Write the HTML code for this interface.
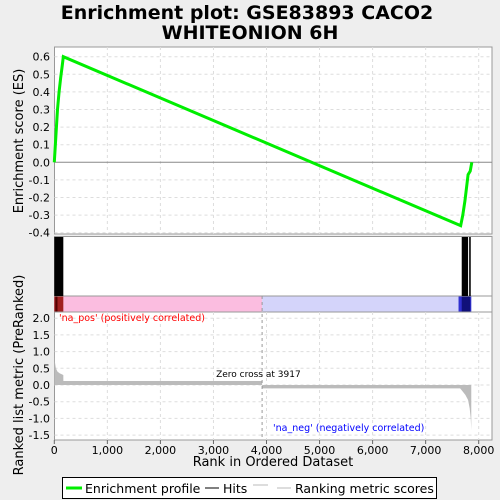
<!DOCTYPE html>
<html><head><meta charset="utf-8"><style>
body{margin:0;background:#eeeeee;}
svg{display:block;font-family:"DejaVu Sans","Liberation Sans",sans-serif;}
</style></head><body>
<svg id="c" width="500" height="500" xmlns="http://www.w3.org/2000/svg">
<rect width="500" height="500" fill="#eeeeee"/>
<text x="247" y="19" text-anchor="middle" font-size="19" font-weight="bold">Enrichment plot: GSE83893 CACO2</text>
<text x="250" y="39" text-anchor="middle" font-size="19" font-weight="bold">WHITEONION 6H</text>
<g id="g"></g>
</svg>
<script>
const esRanks=[0,30,60,90,120,150,170,7660,7700,7740,7780,7800,7840,7870];
const esValues=[0,0.15,0.3,0.4,0.48,0.55,0.6,-0.36,-0.3,-0.22,-0.12,-0.07,-0.05,0];
const hitStarts=[0,7680,7820];
const hitEnds=[170,7800,7850];
const metricRanks=[0,10,30,60,100,170,171,3917,3918,7650,7700,7750,7800,7830,7850,7860];
const metricValues=[2.0,0.7,0.5,0.4,0.35,0.3,0.12,0.12,-0.1,-0.1,-0.2,-0.3,-0.45,-0.7,-1.0,-1.35];
const esTicks=[0.6,0.5,0.4,0.3,0.2,0.1,0.0,-0.1,-0.2,-0.3,-0.4];
const metricTicks=[2.0,1.5,1.0,0.5,0.0,-0.5,-1.0,-1.5];
const xTicks=[0,1000,2000,3000,4000,5000,6000,7000,8000];
const zeroCross=3917;
const NS="http://www.w3.org/2000/svg";
const g=document.getElementById('g');
const L=54.5,R=492;
const X=r=>54.3+r*0.05305;
const YES=v=>162.3-v*176;
const YM=v=>385-v*33.4;
function mk(t,a,p){const e=document.createElementNS(NS,t);for(const k in a)e.setAttribute(k,a[k]);(p||g).appendChild(e);return e;}
// panels
let p1=mk('rect',{x:L,y:47,width:R-L,height:187,fill:'#fff',stroke:'#999'});


let p2=mk('rect',{x:L,y:236.5,width:R-L,height:59.5,fill:'#fff',stroke:'#999'});


let p3=mk('rect',{x:L,y:296,width:R-L,height:16,fill:'#fff',stroke:'#999'});


let p4=mk('rect',{x:L,y:312,width:R-L,height:128,fill:'#fff',stroke:'#999'});


// grids
xTicks.forEach(t=>{if(t>0){mk('line',{x1:X(t),x2:X(t),y1:47,y2:234,stroke:'#ddd','stroke-dasharray':'3,3'});mk('line',{x1:X(t),x2:X(t),y1:312,y2:440,stroke:'#ddd','stroke-dasharray':'3,3'});}});
esTicks.forEach(t=>{mk('line',{x1:L,x2:R,y1:YES(t),y2:YES(t),stroke:Math.abs(t)<1e-9?'#888':'#ddd','stroke-dasharray':Math.abs(t)<1e-9?'':'3,3'});
 let tx=mk('text',{x:50,y:YES(t)+4,'text-anchor':'end','font-size':11});tx.textContent=t.toFixed(1);
 
 });
metricTicks.forEach(t=>{mk('line',{x1:L,x2:R,y1:YM(t),y2:YM(t),stroke:'#ddd','stroke-dasharray':'3,3'});
 let tx=mk('text',{x:50,y:YM(t)+4,'text-anchor':'end','font-size':11});tx.textContent=t.toFixed(1);
 
 });
// color bar
mk('rect',{x:X(0),y:296.5,width:X(zeroCross)-X(0),height:15,fill:'#fbbde0'});
mk('rect',{x:X(zeroCross),y:296.5,width:X(7860)-X(zeroCross),height:15,fill:'#d4d4fa'});
mk('rect',{x:X(0),y:296.5,width:X(170)-X(0),height:15,fill:'#a02020'});
mk('rect',{x:X(20),y:296.5,width:X(60)-X(20),height:15,fill:'#500'});
mk('rect',{x:X(7620),y:296.5,width:X(7860)-X(7620),height:15,fill:'#3030d0'});
mk('rect',{x:X(7680),y:296.5,width:X(7840)-X(7680),height:15,fill:'#10107a'});
// hits
hitStarts.forEach((s,i)=>{let r=mk('rect',{x:X(s),y:237,width:X(hitEnds[i])-X(s),height:59,fill:'#000'});
 
 });
// metric area
let d='M'+X(metricRanks[0])+','+YM(0);
metricRanks.forEach((r,i)=>{d+=' L'+X(r)+','+YM(metricValues[i]);});
d+=' L'+X(metricRanks[metricRanks.length-1])+','+YM(0)+'Z';
let ma=mk('path',{d:d,fill:'#bbb'});


mk('line',{x1:X(zeroCross),x2:X(zeroCross),y1:296,y2:440,stroke:'#999','stroke-dasharray':'3,3'});
let zc=mk('text',{x:X(zeroCross)-46,y:377,'font-size':9});zc.textContent='Zero cross at '+zeroCross;


let pl=mk('text',{x:59,y:321,'font-size':9.5,fill:'#f00'});pl.textContent="'na_pos' (positively correlated)";


let nl=mk('text',{x:273,y:431,'font-size':9.5,fill:'#00f'});nl.textContent="'na_neg' (negatively correlated)";


// ES line
let es=mk('polyline',{points:esRanks.map((r,i)=>X(r)+','+YES(esValues[i])).join(' '),fill:'none',stroke:'#00ee00','stroke-width':3});


// x ticks
xTicks.forEach(t=>{mk('line',{x1:X(t),x2:X(t),y1:440,y2:444,stroke:'#666'});
 let tx=mk('text',{x:X(t),y:454,'text-anchor':'middle','font-size':11});tx.textContent=t.toLocaleString('en-US');
 
 });
let xt=mk('text',{x:273,y:466,'text-anchor':'middle','font-size':13});xt.textContent='Rank in Ordered Dataset';


let y1=mk('text',{x:0,y:0,'text-anchor':'middle','font-size':13,transform:'translate(23,141) rotate(-90)'});y1.textContent='Enrichment score (ES)';


let y2=mk('text',{x:0,y:0,'text-anchor':'middle','font-size':13,transform:'translate(23,375) rotate(-90)'});y2.textContent='Ranked list metric (PreRanked)';


// legend
let lg=mk('g',{});


mk('rect',{x:62.5,y:477.5,width:374,height:21,fill:'#fff',stroke:'#000'},lg);
mk('line',{x1:66,x2:82,y1:488,y2:488,stroke:'#00ee00','stroke-width':3},lg);
let t1=mk('text',{x:85,y:493,'font-size':12.5},lg);t1.textContent='Enrichment profile';


mk('line',{x1:205,x2:219,y1:488,y2:488,stroke:'#000'},lg);
let t2=mk('text',{x:223,y:493,'font-size':12.5},lg);t2.textContent='Hits';


mk('line',{x1:253,x2:268,y1:485,y2:485,stroke:'#bbb'},lg);
mk('line',{x1:277,x2:291,y1:488,y2:488,stroke:'#bbb'},lg);
let t3=mk('text',{x:295,y:493,'font-size':12.5},lg);t3.textContent='Ranking metric scores';


</script>
</body></html>
